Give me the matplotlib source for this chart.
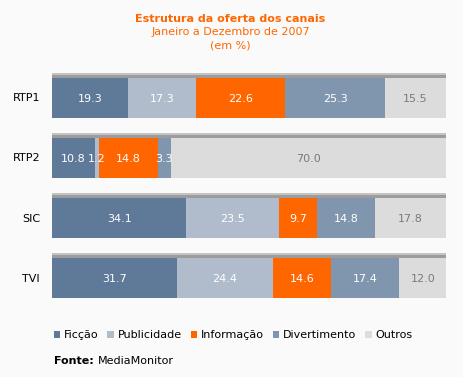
import matplotlib.pyplot as plt
import numpy as np
from matplotlib.patches import Patch

canais = ['RTP1', 'RTP2', 'SIC', 'TVI']
categorias = ['Ficção', 'Publicidade', 'Informação', 'Divertimento', 'Outros']
ficcao = [19.3, 10.8, 34.1, 31.7]
publicidade = [17.3, 1.2, 23.5, 24.4]
informacao = [22.6, 14.8, 9.7, 14.6]
divertimento = [25.3, 3.3, 14.8, 17.4]
outros = [15.5, 70.0, 17.8, 12.0]

series = [ficcao, publicidade, informacao, divertimento, outros]
cores = ['#5f7a99', '#b0bccc', '#ff6600', '#7f96ae', '#dcdcdc']
cor_texto = ['white', 'white', 'white', 'white', '#7a7a7a']
bg = '#fafafa'

fig = plt.figure(figsize=(4.64, 3.77), dpi=100, facecolor=bg)
ax = fig.add_axes([52 / 464, 1 - 308 / 377, 394 / 464, 240 / 377])
ax.set_facecolor(bg)

y = np.arange(len(canais))
bar_h = 40 / 60
px = 1 / 60

# faixa de sombra por cima das barras
totais = np.sum(series, axis=0)
ax.barh(y - bar_h / 2 - 3.5 * px, totais, height=3 * px, color='#c4c4c4', linewidth=0)
ax.barh(y - bar_h / 2 - 1.5 * px, totais, height=2.5 * px, color='#9c9c9c', linewidth=0)

left = np.zeros(len(canais))
for vals, cor, ct in zip(series, cores, cor_texto):
    vals = np.array(vals)
    ax.barh(y, vals, left=left, height=bar_h, color=cor, linewidth=0)
    for i, v in enumerate(vals):
        ax.text(left[i] + v / 2, y[i] + 0.02, f'{v:.1f}', ha='center', va='center',
                color=ct, fontsize=8)
    left += vals

ax.set_xlim(0, 100)
ax.set_ylim(3.5, -0.5)
ax.axis('off')

for i, c in enumerate(canais):
    fig.text(40 / 464, 1 - (98 + 60.3 * i) / 377, c, ha='right', va='center',
             fontsize=8, color='black')

laranja = '#ff6600'
fig.text(0.497, 1 - 19 / 377, 'Estrutura da oferta dos canais', ha='center', va='center',
         fontsize=8, fontweight='bold', color=laranja)
fig.text(0.497, 1 - 32 / 377, 'Janeiro a Dezembro de 2007', ha='center', va='center',
         fontsize=8, color=laranja)
fig.text(0.497, 1 - 45 / 377, '(em %)', ha='center', va='center',
         fontsize=8, color=laranja)

handles = [Patch(facecolor=c, edgecolor='none') for c in cores]
fig.legend(handles, categorias, loc='center', bbox_to_anchor=(233 / 464, 1 - 335 / 377),
           ncol=5, frameon=False, fontsize=8, handlelength=0.6, handleheight=0.6,
           handletextpad=0.3, columnspacing=0.82, borderpad=0)

fig.text(54 / 464, 1 - 361 / 377, 'Fonte:', ha='left', va='center', fontsize=8,
         fontweight='bold', color='black')
fig.text(98 / 464, 1 - 361 / 377, 'MediaMonitor', ha='left', va='center', fontsize=8,
         color='black')

fig.savefig('out.png', dpi=100, facecolor=bg)
